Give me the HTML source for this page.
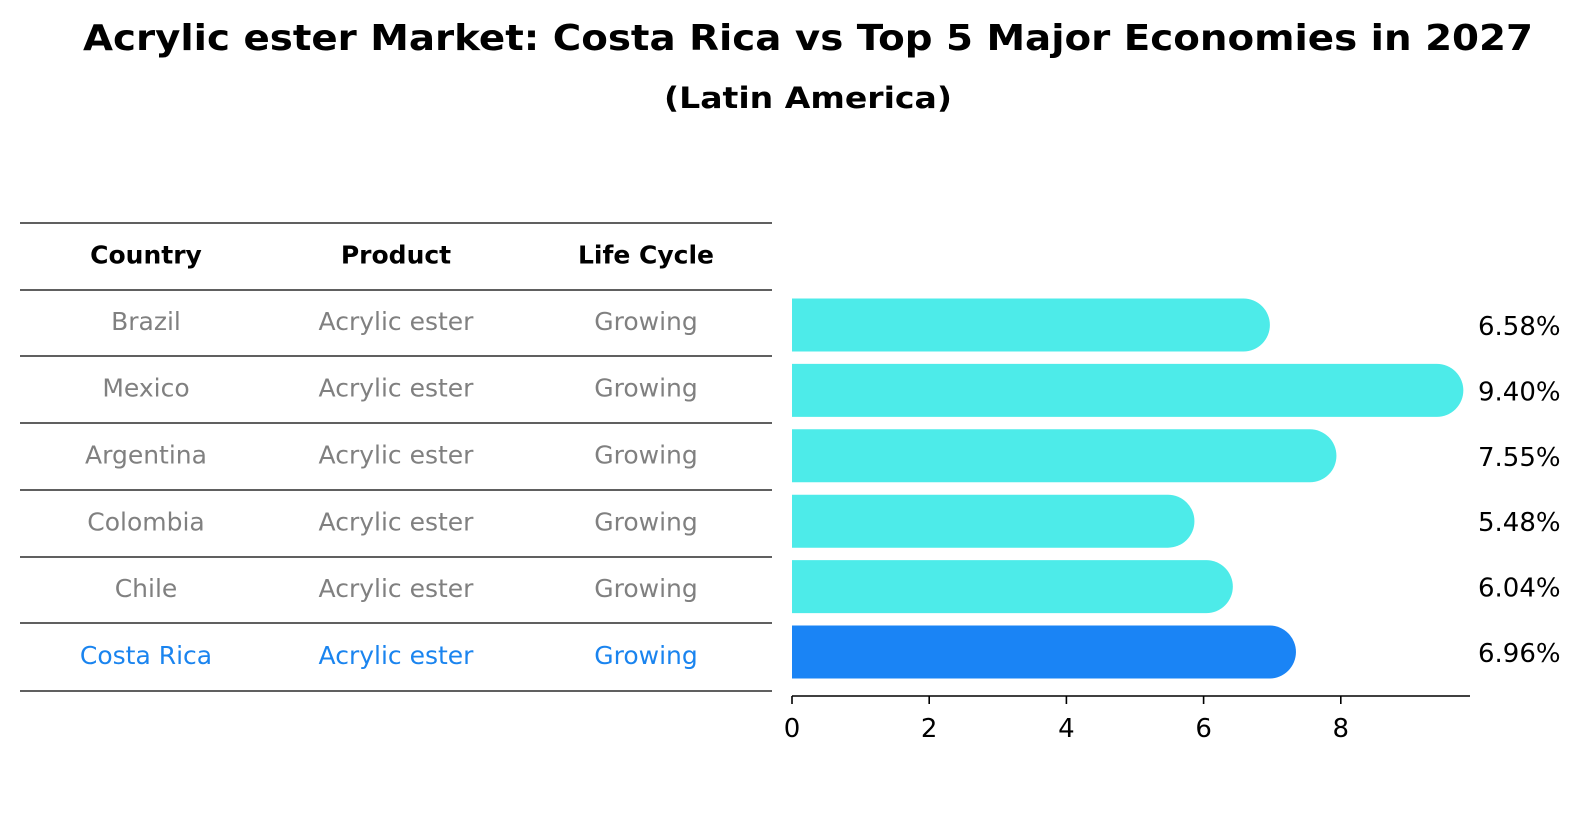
<!DOCTYPE html>
<html><head><meta charset="utf-8"><style>
html,body{margin:0;padding:0;background:#fff;width:1586px;height:823px;overflow:hidden}
svg{display:block}
</style></head><body>
<svg width="1586" height="823" viewBox="0 0 1586 823" id="svg" xmlns="http://www.w3.org/2000/svg" font-family="DejaVu Sans, Liberation Sans, sans-serif">
<text x="808" y="50" text-anchor="middle" font-size="36" font-weight="bold" textLength="1450" lengthAdjust="spacingAndGlyphs">Acrylic ester Market: Costa Rica vs Top 5 Major Economies in 2027</text>
<text x="808" y="108" text-anchor="middle" font-size="29" font-weight="bold" textLength="288" lengthAdjust="spacingAndGlyphs">(Latin America)</text>
<g id="table"></g>
<g id="bars"></g>
</svg>
<script>
const countries=["Brazil","Mexico","Argentina","Colombia","Chile","Costa Rica"];
const values=[6.58,9.40,7.55,5.48,6.04,6.96];
const labels=["6.58%","9.40%","7.55%","5.48%","6.04%","6.96%"];
const ticks=[0,2,4,6,8];
const NS="http://www.w3.org/2000/svg";
function mk(t,a,p,txt){const e=document.createElementNS(NS,t);for(const k in a)e.setAttribute(k,a[k]);if(txt!==undefined)e.textContent=txt;p.appendChild(e);return e;}
const tbl=document.getElementById('table'),bars=document.getElementById('bars');
const lineYs=[223,290,356,423,490,557,623,691];
lineYs.forEach(y=>{const l=mk('line',{x1:20,x2:772,y1:y,y2:y,stroke:'#000','stroke-width':1.2},tbl);

});
const cx=[146,396,646];
["Country","Product","Life Cycle"].forEach((h,i)=>{const t=mk('text',{x:cx[i],y:(lineYs[0]+lineYs[1])/2+7,'text-anchor':'middle','font-size':25,'font-weight':'bold'},tbl,h);

});
const X=v=>792+v*68.6;
const rowY=i=>325+i*65.4;
countries.forEach((c,i)=>{
 const last=i===countries.length-1, col=last?'#1a84ef':'#808080';
 [c,"Acrylic ester","Growing"].forEach((s,j)=>{const t=mk('text',{x:cx[j],y:(lineYs[i+1]+lineYs[i+2])/2+7,'text-anchor':'middle','font-size':25,fill:col},tbl,s);
 
 });
 const y=rowY(i),r=26.5,x0=X(0),x1=X(values[i]);
 const p=mk('path',{d:`M${x0},${y-r}L${x1},${y-r}A${r},${r} 0 0 1 ${x1},${y+r}L${x0},${y+r}Z`,fill:last?'#1a84f5':'#4debe9'},bars);
 
 
 const t=mk('text',{x:1478,y:y+10,'font-size':26},bars,labels[i]);
 
 
});
const ax=mk('line',{x1:792,x2:1470,y1:696,y2:696,stroke:'#000','stroke-width':1.6},bars);


ticks.forEach(v=>{const l=mk('line',{x1:X(v),x2:X(v),y1:696,y2:704,stroke:'#000','stroke-width':1.6},bars);


const t=mk('text',{x:X(v),y:737,'text-anchor':'middle','font-size':26},bars,String(v));

});
</script>
</body></html>
